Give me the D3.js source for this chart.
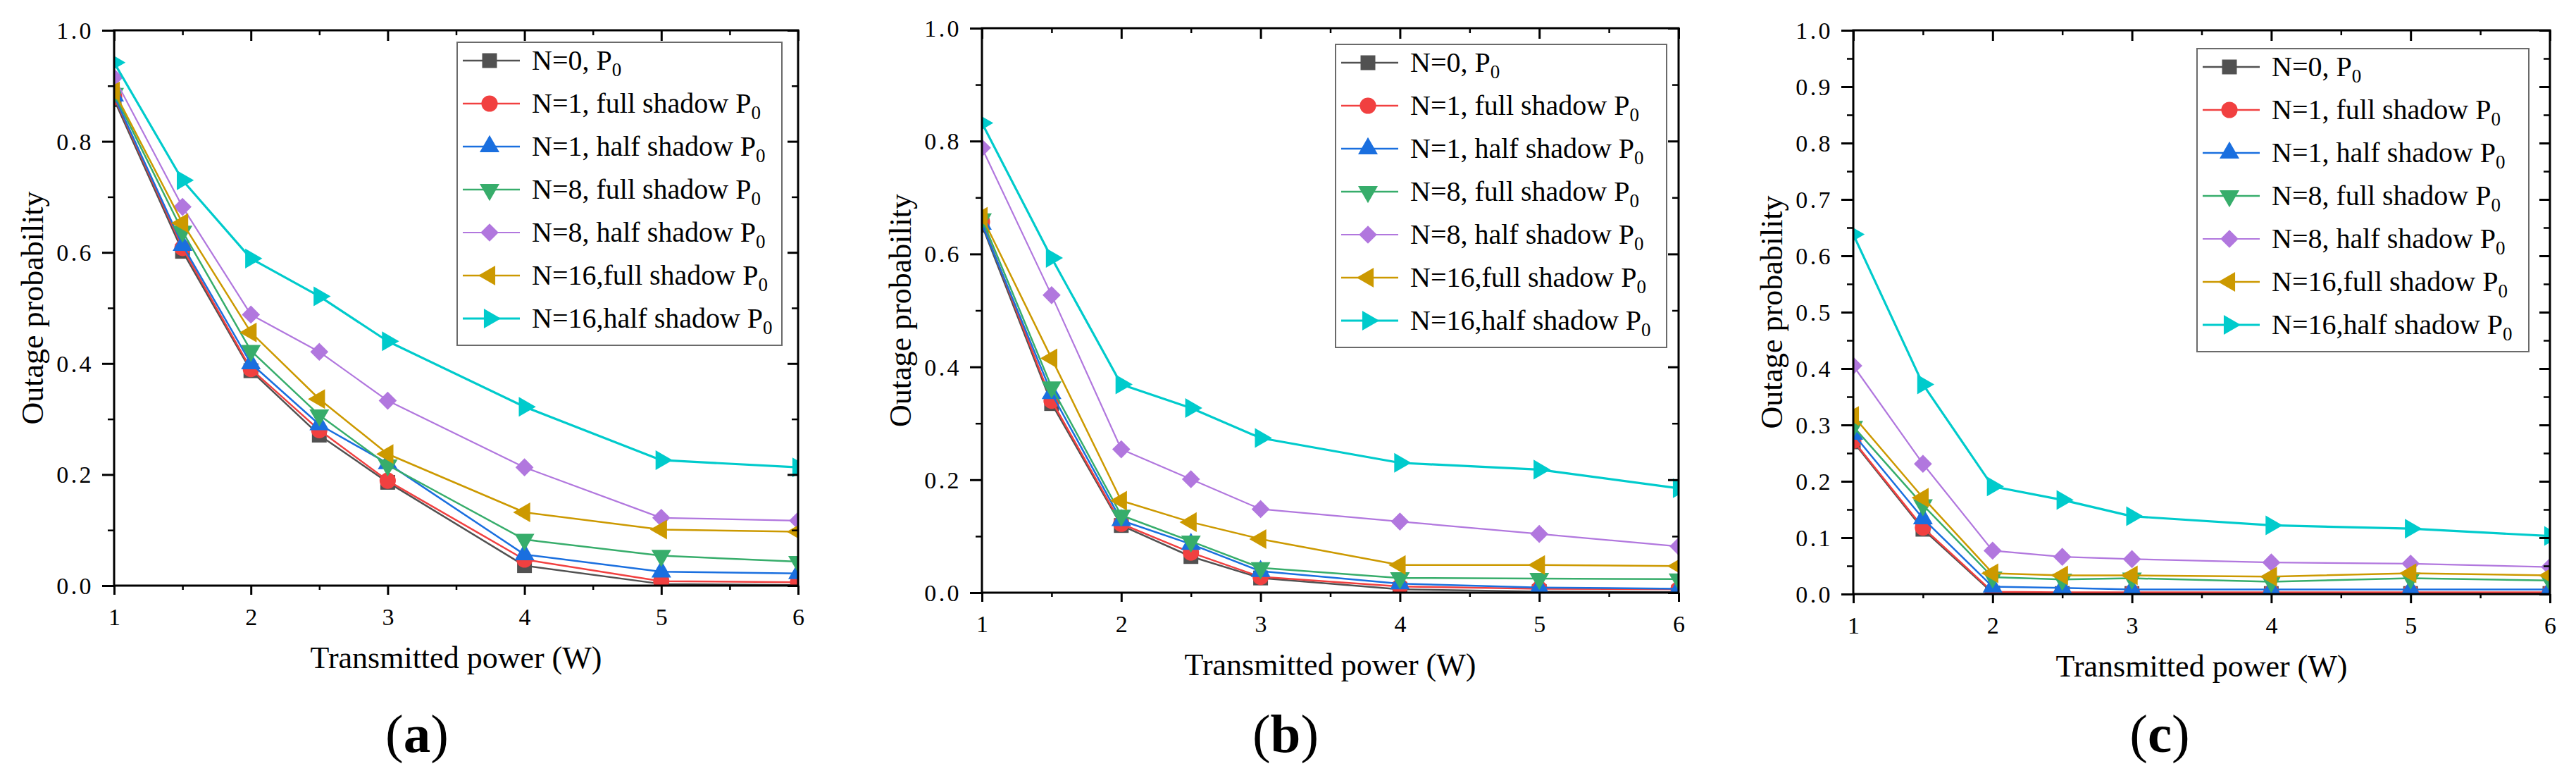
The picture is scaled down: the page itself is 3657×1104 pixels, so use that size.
<!DOCTYPE html>
<html>
<head>
<meta charset="utf-8">
<script src="https://cdn.jsdelivr.net/npm/d3@7"></script>
<style>
  body { margin: 0; background: #fff; }
  text { font-family: "Liberation Serif", "Times New Roman", serif; fill: #000; }
</style>
</head>
<body>
<script>
  // x values (transmitted power, W)
  var powers = [1, 1.5, 2, 2.5, 3, 4, 5, 6];

  // legend labels, the trailing "0" is drawn as a subscript
  var seriesLabels = ["N=0, P", "N=1, full shadow P", "N=1, half shadow P",
                      "N=8, full shadow P", "N=8, half shadow P",
                      "N=16,full shadow P", "N=16,half shadow P"];
  var seriesColors = ["#515151", "#F14040", "#1A6FDF", "#37AD6B", "#B177DE", "#CC9900", "#00CBCC"];

  // outage probability, one row per series (same order as seriesLabels)
  var outageA = [
    [0.875, 0.602, 0.387, 0.271, 0.186, 0.036, 0.003, 0.001],
    [0.880, 0.608, 0.390, 0.280, 0.189, 0.047, 0.008, 0.006],
    [0.882, 0.613, 0.400, 0.290, 0.220, 0.056, 0.025, 0.022],
    [0.886, 0.638, 0.423, 0.307, 0.217, 0.083, 0.054, 0.043],
    [0.915, 0.682, 0.488, 0.421, 0.333, 0.213, 0.122, 0.117],
    [0.890, 0.653, 0.456, 0.336, 0.237, 0.132, 0.101, 0.097],
    [0.942, 0.730, 0.589, 0.521, 0.440, 0.322, 0.226, 0.213]
  ];
  var outageB = [
    [0.651, 0.335, 0.119, 0.064, 0.026, 0.006, 0.002, 0.001],
    [0.657, 0.340, 0.122, 0.071, 0.028, 0.011, 0.007, 0.006],
    [0.653, 0.353, 0.128, 0.086, 0.038, 0.016, 0.009, 0.007],
    [0.662, 0.364, 0.137, 0.091, 0.044, 0.026, 0.025, 0.024],
    [0.788, 0.527, 0.254, 0.201, 0.148, 0.126, 0.104, 0.082],
    [0.666, 0.415, 0.163, 0.125, 0.095, 0.049, 0.049, 0.047],
    [0.832, 0.593, 0.369, 0.327, 0.274, 0.230, 0.218, 0.185]
  ];
  var outageC = [
    [0.270, 0.115, 0.002, 0.001, 0.001, 0.001, 0.001, 0.001],
    [0.272, 0.118, 0.004, 0.003, 0.003, 0.003, 0.003, 0.003],
    [0.284, 0.134, 0.013, 0.011, 0.008, 0.008, 0.008, 0.008],
    [0.297, 0.158, 0.030, 0.026, 0.028, 0.022, 0.028, 0.024],
    [0.405, 0.231, 0.077, 0.066, 0.062, 0.056, 0.054, 0.048],
    [0.316, 0.171, 0.037, 0.033, 0.033, 0.031, 0.037, 0.033],
    [0.638, 0.372, 0.191, 0.167, 0.138, 0.122, 0.116, 0.103]
  ];

  // tick values
  var xMajor = [1, 2, 3, 4, 5, 6];
  var xMinor = [1.5, 2.5, 3.5, 4.5, 5.5];
  var yMajorAB = [0, 0.2, 0.4, 0.6, 0.8, 1.0];
  var yMinorAB = [0.1, 0.3, 0.5, 0.7, 0.9];
  var yMajorC = [0, 0.1, 0.2, 0.3, 0.4, 0.5, 0.6, 0.7, 0.8, 0.9, 1.0];
  var yMinorC = [0.05, 0.15, 0.25, 0.35, 0.45, 0.55, 0.65, 0.75, 0.85, 0.95];

  // marker styles per series
  var markers = [
    { type: d3.symbolSquare, size: 440, rot: 0 },
    { type: d3.symbolCircle, size: 420, rot: 0 },
    { type: d3.symbolTriangle, size: 340, rot: 0 },
    { type: d3.symbolTriangle, size: 340, rot: 180 },
    { type: d3.symbolSquare, size: 330, rot: 45 },
    { type: d3.symbolTriangle, size: 340, rot: -90 },
    { type: d3.symbolTriangle, size: 340, rot: 90 }
  ];
  var lineWidths = [2.5, 2.5, 2.5, 2.5, 2.2, 2.5, 3.2];

  // panel placement on the page
  var panels = [
    { id: "a", data: outageA, left: 162, top: 43, width: 971, height: 788,
      yMajor: yMajorAB, yMinor: yMinorAB, legendX: 649, legendY: 60, legendW: 461, tagX: 592 },
    { id: "b", data: outageB, left: 1394, top: 40, width: 989, height: 801,
      yMajor: yMajorAB, yMinor: yMinorAB, legendX: 1896, legendY: 63, legendW: 470, tagX: 1825 },
    { id: "c", data: outageC, left: 2631, top: 43, width: 989, height: 800,
      yMajor: yMajorC, yMinor: yMinorC, legendX: 3119, legendY: 69, legendW: 471, tagX: 3066 }
  ];

  var svg = d3.select("body").append("svg")
      .attr("width", 3657)
      .attr("height", 1104);
  var defs = svg.append("defs");

  function symbolPath(i) {
    return d3.symbol().type(markers[i].type).size(markers[i].size)();
  }

  function styleAxis(sel, width) {
    sel.attr("font-family", "Liberation Serif, Times New Roman, serif")
       .attr("font-size", 34);
    sel.select(".domain").remove();
    sel.selectAll("line").attr("stroke", "#000").attr("stroke-width", width);
    sel.selectAll("text").attr("fill", "#000");
  }

  function drawPanel(p) {
    var g = svg.append("g").attr("transform", "translate(" + p.left + "," + p.top + ")");
    var x = d3.scaleLinear().domain([1, 6]).range([0, p.width]);
    var y = d3.scaleLinear().domain([0, 1]).range([p.height, 0]);
    var fmt = d3.format(".1f");

    defs.append("clipPath").attr("id", "clip-" + p.id)
      .append("rect").attr("width", p.width).attr("height", p.height);

    // series: line then markers, later series on top
    var plot = g.append("g").attr("clip-path", "url(#clip-" + p.id + ")");
    var line = d3.line()
        .x(function (d) { return x(d[0]); })
        .y(function (d) { return y(d[1]); });

    p.data.forEach(function (vals, i) {
      var pts = powers.map(function (v, j) { return [v, vals[j]]; });
      plot.append("path")
          .datum(pts)
          .attr("d", line)
          .attr("fill", "none")
          .attr("stroke", seriesColors[i])
          .attr("stroke-width", lineWidths[i])
          .attr("stroke-linejoin", "round");
      plot.selectAll(".m" + i)
          .data(pts)
          .enter()
          .append("path")
          .attr("class", "m" + i)
          .attr("d", symbolPath(i))
          .attr("transform", function (d) {
            return "translate(" + x(d[0]) + "," + y(d[1]) + ") rotate(" + markers[i].rot + ")";
          })
          .attr("fill", seriesColors[i]);
    });

    // bottom axis (outward ticks)
    g.append("g").attr("transform", "translate(0," + p.height + ")")
      .call(d3.axisBottom(x).tickValues(xMajor).tickSize(13).tickPadding(19)
            .tickFormat(d3.format("d")))
      .call(styleAxis, 3);
    g.append("g").attr("transform", "translate(0," + p.height + ")")
      .call(d3.axisBottom(x).tickValues(xMinor).tickSize(6).tickFormat(""))
      .call(styleAxis, 2.5);

    // top axis (inward ticks)
    g.append("g")
      .call(d3.axisTop(x).tickValues(xMajor).tickSize(-15).tickFormat(""))
      .call(styleAxis, 3);
    g.append("g")
      .call(d3.axisTop(x).tickValues(xMinor).tickSize(-7).tickFormat(""))
      .call(styleAxis, 2.5);

    // left axis (outward ticks)
    var left = g.append("g")
      .call(d3.axisLeft(y).tickValues(p.yMajor).tickSize(17).tickPadding(12).tickFormat(fmt))
      .call(styleAxis, 3);
    left.selectAll("text").attr("letter-spacing", "0.1em").attr("dy", "0.34em");
    g.append("g")
      .call(d3.axisLeft(y).tickValues(p.yMinor).tickSize(9).tickFormat(""))
      .call(styleAxis, 2.5);

    // right axis (inward ticks)
    g.append("g").attr("transform", "translate(" + p.width + ",0)")
      .call(d3.axisRight(y).tickValues(p.yMajor).tickSize(-15).tickFormat(""))
      .call(styleAxis, 3);
    g.append("g").attr("transform", "translate(" + p.width + ",0)")
      .call(d3.axisRight(y).tickValues(p.yMinor).tickSize(-9).tickFormat(""))
      .call(styleAxis, 2.5);

    // frame
    g.append("rect")
      .attr("width", p.width)
      .attr("height", p.height)
      .attr("fill", "none")
      .attr("stroke", "#000")
      .attr("stroke-width", 3);

    // axis titles
    g.append("text")
      .attr("x", p.width / 2)
      .attr("y", p.height + 117)
      .attr("text-anchor", "middle")
      .attr("font-size", 44)
      .text("Transmitted power (W)");
    g.append("text")
      .attr("transform", "translate(-101," + (p.height / 2) + ") rotate(-90)")
      .attr("text-anchor", "middle")
      .attr("font-size", 44)
      .text("Outage probability");

    // legend
    var lg = svg.append("g").attr("transform", "translate(" + p.legendX + "," + p.legendY + ")");
    lg.append("rect")
      .attr("width", p.legendW)
      .attr("height", 430)
      .attr("fill", "#fff")
      .attr("stroke", "#6a6a6a")
      .attr("stroke-width", 2);
    seriesLabels.forEach(function (lab, i) {
      var row = lg.append("g").attr("transform", "translate(0," + (26 + i * 61) + ")");
      row.append("line")
        .attr("x1", 8).attr("x2", 89)
        .attr("stroke", seriesColors[i])
        .attr("stroke-width", lineWidths[i]);
      row.append("path")
        .attr("d", symbolPath(i))
        .attr("transform", "translate(46,0) rotate(" + markers[i].rot + ")")
        .attr("fill", seriesColors[i]);
      var t = row.append("text")
        .attr("x", 106)
        .attr("y", 13)
        .attr("font-size", 40)
        .text(lab);
      t.append("tspan")
        .attr("font-size", 27)
        .attr("dy", 9)
        .text("0");
    });

    // panel tag, e.g. (a)
    var tag = svg.append("text")
      .attr("x", p.tagX)
      .attr("y", 1067)
      .attr("text-anchor", "middle")
      .attr("font-size", 77)
      .text("(");
    tag.append("tspan").attr("font-weight", "bold").text(p.id);
    tag.append("tspan").text(")");
  }

  panels.forEach(drawPanel);
</script>
</body>
</html>
